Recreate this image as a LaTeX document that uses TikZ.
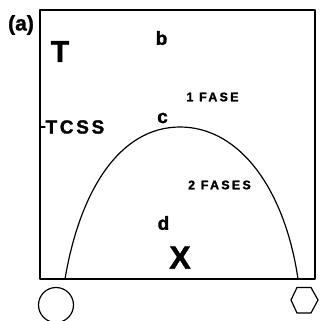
\documentclass[tikz,border=0pt]{standalone}
\usepackage{fontspec}
\setmainfont{Liberation Sans}[BoldFeatures={FakeBold=1.5}]
\usetikzlibrary{positioning}

\tikzset{
  lbl/.style={anchor=center,inner sep=0pt,font=\bfseries},
  fase/.style={lbl,font=\bfseries\fontsize{12.5}{15}\selectfont}
}

\begin{document}
\begin{tikzpicture}[x=1pt, y=-1pt, line width=1.2pt, line cap=round, line join=round]

  %% ════ 框 ════
  \coordinate (tl) at (40.0,10.0);
  \coordinate (br) at (315.0,279.0);
  \draw[line width=1.5pt] (tl) rectangle (br);

  %% ════ 曲线（两相区边界）════
  \coordinate (footL) at (65.0,279.0);
  \coordinate (top) at (180.0,127.0);
  \coordinate (footR) at (298.0,279.0);
  \draw (footL) .. controls (80.0,190.0) and (120.0,127.0) .. (top)
                .. controls (240.0,127.0) and (285.0,190.0) .. (footR);

  %% ════ TCSS 刻度 ════
  \coordinate (tick) at (45.0,127.0);
  \draw (40.0,127.0) -- (tick);

  %% ════ 标签 ════
  \node[lbl,font=\bfseries\fontsize{21}{24}\selectfont] (lab) at (21.0,25.0) {(a)};
  \node[lbl,font=\bfseries\fontsize{30}{34}\selectfont] (T) at (60.0,51.5) {T};
  \node[lbl,font=\bfseries\fontsize{19}{22}\selectfont,anchor=west] (tcss) at (tick) {\addfontfeatures{LetterSpace=14}TCSS};
  \node[lbl,font=\bfseries\fontsize{19}{22}\selectfont] (b) at (161.5,38.0) {b};
  \node[lbl,font=\bfseries\fontsize{19}{22}\selectfont] (c) at (162.5,118.0) {c};
  \node[lbl,font=\bfseries\fontsize{19}{22}\selectfont] (d) at (163.5,223.0) {d};
  \node[lbl,font=\bfseries\fontsize{32}{36}\selectfont] (X) at (180.0,257.5) {X};
  \node[fase] (f1) at (212.5,97.0) {\addfontfeatures{LetterSpace=18}1 FASE};
  \node[fase] (f2) at (219.5,185.0) {\addfontfeatures{LetterSpace=18}2 FASES};

  %% ════ 下方符号 ════
  \node[draw,circle,minimum size=35pt,inner sep=0pt] (circ) at (56.0,305.0) {};
  \draw (291.0,300.0) -- (297.0,287.5) -- (311.0,287.5) -- (318.0,300.0)
        -- (311.0,313.0) -- (297.0,313.0) -- cycle;

  \pgfresetboundingbox
  \path[use as bounding box] (0,0) rectangle (321,321);
\end{tikzpicture}
\end{document}
